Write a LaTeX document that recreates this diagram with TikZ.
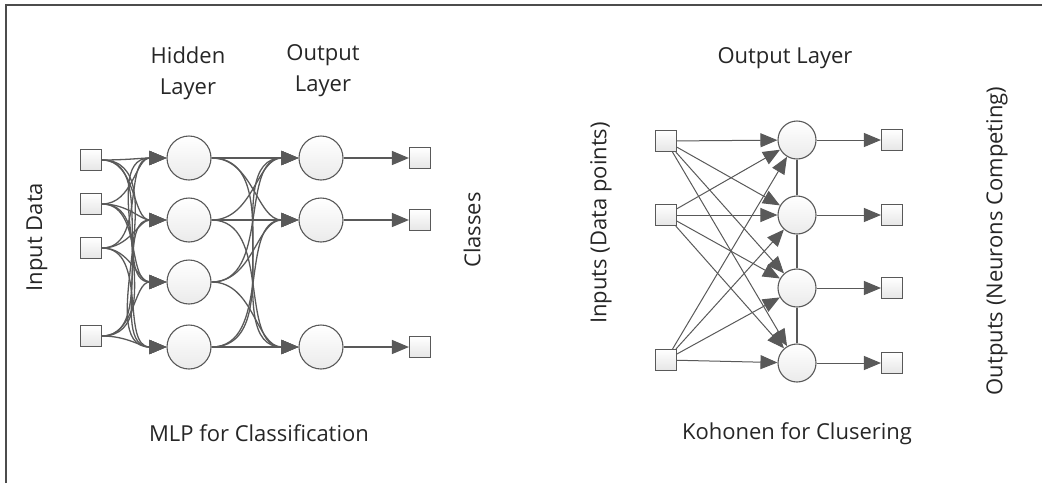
\documentclass[tikz,border=0pt]{standalone}
\usepackage{fontspec}
\setmainfont{Open Sans}
\usetikzlibrary{arrows.meta}

\tikzset{
  unit/.style={draw=black!65, top color=white, bottom color=black!10, minimum size=21pt, inner sep=0pt, line width=1.1pt},
  neuron/.style={circle, draw=black!65, top color=white, bottom color=black!8, minimum size=44pt, inner sep=0pt, line width=1.1pt},
  smallneuron/.style={neuron, minimum size=38pt},
  link/.style={draw=black!65, line width=1.3pt, -{Triangle[length=17pt,width=14pt]}},
  thinlink/.style={link, line width=1pt},
  lbl/.style={font=\fontsize{22}{31}\selectfont, text=black!85}
}

\begin{document}
\begin{tikzpicture}[x=1pt,y=-1pt]
\useasboundingbox (0,0) rectangle (1042,483);

% Frame
\draw[black!70, line width=2pt] (6,483) -- (6,5) -- (1042,5);

% MLP layers
\foreach \i/\y in {1/160,2/204,3/248,4/336}
  \node[unit] (in\i) at (91,\y) {};
\foreach \i/\y in {1/158,2/220,3/282,4/347}
  \node[neuron] (hid\i) at (189,\y) {};
\foreach \i/\y in {1/158,2/220,3/347} {
  \node[neuron] (out\i) at (321,\y) {};
  \node[unit] (cls\i) at (420,\y) {};
}

% MLP weights
\foreach \i in {1,...,4}
  \foreach \j in {1,...,4}
    \draw[link] (in\i.east) to[out=0, in=180] (hid\j.west);
\foreach \i in {1,...,4}
  \foreach \j in {1,2,3}
    \draw[link] (hid\i.east) to[out=0, in=180] (out\j.west);
\foreach \j in {1,2,3}
  \draw[link] (out\j) -- (cls\j);

% Kohonen layers
\foreach \i/\y in {1/141,2/215,3/360}
  \node[unit] (kin\i) at (666,\y) {};
\foreach \j/\y in {1/140,2/215,3/288,4/363} {
  \node[smallneuron] (kn\j) at (797,\y) {};
  \node[unit] (kout\j) at (892,\y) {};
}
\foreach \j [count=\k from 2] in {1,2,3}
  \draw[black!65, line width=1.2pt] (kn\j.south) -- (kn\k.north);

% Kohonen weights
\foreach \i in {1,2,3}
  \foreach \j in {1,...,4}
    \draw[thinlink] (kin\i) -- (kn\j);
\foreach \j in {1,...,4}
  \draw[thinlink] (kn\j) -- (kout\j);

% Labels
\node[lbl, align=center] (hidlbl) at (188,73) {Hidden\\Layer};
\node[lbl, align=center] (outlbl) at (323,71) {Output\\Layer};
\node[lbl, rotate=90] (inlbl) at (37,237) {Input Data};
\node[lbl, rotate=90] (clslbl) at (472,230) {Classes};
\node[lbl] (mlplbl) at (259,433) {MLP for Classification};
\node[lbl] (koutlbl) at (785,58) {Output Layer};
\node[lbl, rotate=90] (kinlbl) at (601,223) {Inputs (Data points)};
\node[lbl, rotate=90] (kcomplbl) at (997,241) {Outputs (Neurons Competing)};
\node[lbl] (kohlbl) at (797,434) {Kohonen for Clusering};

\end{tikzpicture}
\end{document}
